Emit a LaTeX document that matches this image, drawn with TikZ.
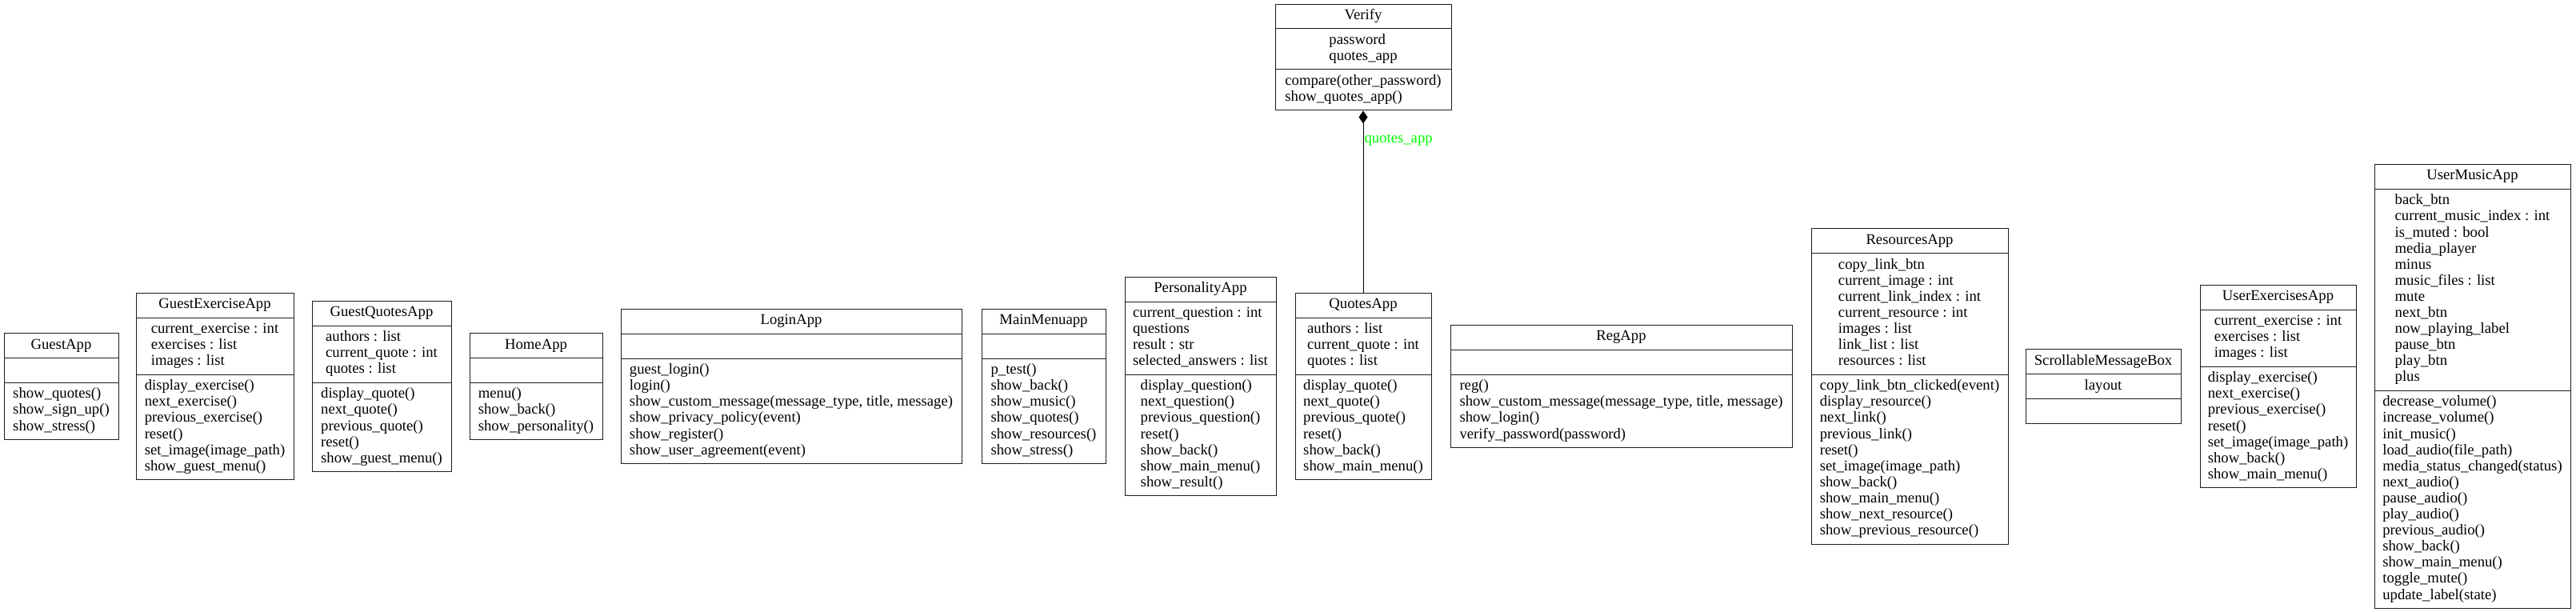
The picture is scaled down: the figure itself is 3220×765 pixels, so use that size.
\documentclass[tikz,border=0pt]{standalone}
\usepackage{fontspec}
\setmainfont{Liberation Serif}
\usetikzlibrary{arrows.meta}
\definecolor{labelgreen}{RGB}{0,255,0}
\definecolor{edgegray}{RGB}{30,30,30}
\newcommand\fieldrows[1]{\begin{tabular}{@{}l@{}}#1\end{tabular}}
\tikzset{
  classbox/.style={draw=edgegray, line width=1pt, fill=white, inner sep=0pt},
  sepline/.style={draw=edgegray, line width=1pt},
  fieldtext/.style={inner sep=0pt, font=\fontsize{18.7}{20.1}\selectfont},
  composition/.style={draw=black, line width=1pt, -{Diamond[length=16pt,width=11pt]}},
  edgelabel/.style={inner sep=1pt, text=labelgreen, font=\fontsize{18.7}{20.1}\selectfont},
}
% #1 name/title, #2 left x, #3 right x, #4 attr lines, #5 method lines, #6 attrs, #7 methods, #8 centre y
\newcommand\umlclass[8]{%
  \pgfmathsetmacro\hT{30.9}%
  \pgfmathsetmacro\hA{(#4==0) ? 30.9 : (#4*20.1+10.8)}%
  \pgfmathsetmacro\hM{(#5==0) ? 30.9 : (#5*20.1+10.8)}%
  \pgfmathsetmacro\hH{\hT+\hA+\hM}%
  \pgfmathsetmacro\yTop{#8-\hH/2}%
  \pgfmathsetmacro\ySa{\yTop+\hT}%
  \pgfmathsetmacro\ySb{\ySa+\hA}%
  \pgfmathsetmacro\yT{\yTop+\hT/2}%
  \pgfmathsetmacro\yA{\ySa+\hA/2}%
  \pgfmathsetmacro\yM{\ySb+\hM/2}%
  \pgfmathsetmacro\cx{(#2+#3)/2}%
  \pgfmathsetmacro\ww{#3-#2}%
  \node[classbox, minimum width=\ww pt, minimum height=\hH pt] (#1) at (\cx,#8) {};
  \draw[sepline] (#2,\ySa) -- (#3,\ySa);
  \draw[sepline] (#2,\ySb) -- (#3,\ySb);
  \node[fieldtext] (#1-t) at (\cx,\yT) {\fieldrows{#1}};
  \ifnum#4>0 \node[fieldtext] (#1-a) at (\cx,\yA) {\fieldrows{#6}};\fi
  \ifnum#5>0 \node[fieldtext] (#1-m) at (\cx,\yM) {\fieldrows{#7}};\fi
}
\begin{document}
\begin{tikzpicture}[x=1pt,y=-1pt]
\fill[white] (0,0) rectangle (3220,765);
\useasboundingbox (0,0) rectangle (3220,765);

\umlclass{GuestApp}{5}{148}{0}{3}{}{show\_quotes()\\show\_sign\_up()\\show\_stress()}{483}
\umlclass{GuestExerciseApp}{170}{367}{3}{6}{current\_exercise : int\\exercises : list\\images : list}{display\_exercise()\\next\_exercise()\\previous\_exercise()\\reset()\\set\_image(image\_path)\\show\_guest\_menu()}{483}
\umlclass{GuestQuotesApp}{390}{564}{3}{5}{authors : list\\current\_quote : int\\quotes : list}{display\_quote()\\next\_quote()\\previous\_quote()\\reset()\\show\_guest\_menu()}{483}
\umlclass{HomeApp}{587}{753}{0}{3}{}{menu()\\show\_back()\\show\_personality()}{483}
\umlclass{LoginApp}{776}{1202}{0}{6}{}{guest\_login()\\login()\\show\_custom\_message(message\_type, title, message)\\show\_privacy\_policy(event)\\show\_register()\\show\_user\_agreement(event)}{483}
\umlclass{MainMenuapp}{1227}{1382}{0}{6}{}{p\_test()\\show\_back()\\show\_music()\\show\_quotes()\\show\_resources()\\show\_stress()}{483}
\umlclass{PersonalityApp}{1406}{1595}{4}{7}{current\_question : int\\questions\\result : str\\selected\_answers : list}{display\_question()\\next\_question()\\previous\_question()\\reset()\\show\_back()\\show\_main\_menu()\\show\_result()}{483}
\umlclass{QuotesApp}{1619}{1789}{3}{6}{authors : list\\current\_quote : int\\quotes : list}{display\_quote()\\next\_quote()\\previous\_quote()\\reset()\\show\_back()\\show\_main\_menu()}{483}
\umlclass{RegApp}{1813}{2240}{0}{4}{}{reg()\\show\_custom\_message(message\_type, title, message)\\show\_login()\\verify\_password(password)}{483}
\umlclass{ResourcesApp}{2264}{2510}{7}{10}{copy\_link\_btn\\current\_image : int\\current\_link\_index : int\\current\_resource : int\\images : list\\link\_list : list\\resources : list}{copy\_link\_btn\_clicked(event)\\display\_resource()\\next\_link()\\previous\_link()\\reset()\\set\_image(image\_path)\\show\_back()\\show\_main\_menu()\\show\_next\_resource()\\show\_previous\_resource()}{483}
\umlclass{ScrollableMessageBox}{2532}{2726}{1}{0}{layout}{}{483}
\umlclass{UserExercisesApp}{2750}{2945}{3}{7}{current\_exercise : int\\exercises : list\\images : list}{display\_exercise()\\next\_exercise()\\previous\_exercise()\\reset()\\set\_image(image\_path)\\show\_back()\\show\_main\_menu()}{483}
\umlclass{UserMusicApp}{2968}{3213}{12}{13}{back\_btn\\current\_music\_index : int\\is\_muted : bool\\media\_player\\minus\\music\_files : list\\mute\\next\_btn\\now\_playing\_label\\pause\_btn\\play\_btn\\plus}{decrease\_volume()\\increase\_volume()\\init\_music()\\load\_audio(file\_path)\\media\_status\_changed(status)\\next\_audio()\\pause\_audio()\\play\_audio()\\previous\_audio()\\show\_back()\\show\_main\_menu()\\toggle\_mute()\\update\_label(state)}{483}
\umlclass{Verify}{1594}{1814}{2}{2}{password\\quotes\_app}{compare(other\_password)\\show\_quotes\_app()}{71.5}

\draw[composition] (QuotesApp.north) -- node[edgelabel, pos=0.84, anchor=west] (lbl) {quotes\_app} (Verify.south);
\end{tikzpicture}
\end{document}
